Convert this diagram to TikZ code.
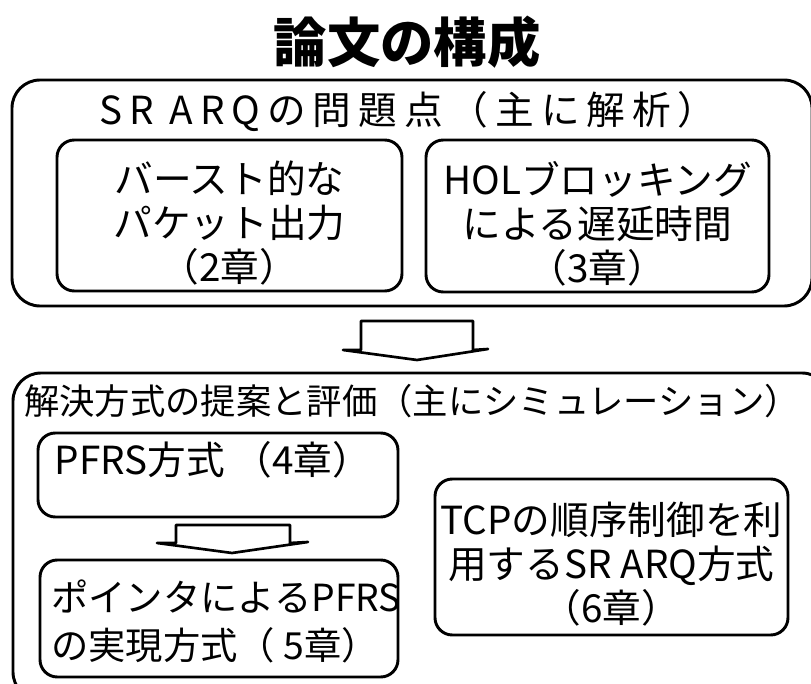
\documentclass[tikz,border=0pt]{standalone}
\usepackage{fontspec}
\newfontfamily\jp{Noto Sans CJK JP}
\newfontfamily\jpwide[LetterSpace=18]{Noto Sans CJK JP}
\usetikzlibrary{fit}
\begin{document}
\begin{tikzpicture}[x=0.75pt,y=-0.75pt,
  box/.style={draw, line width=2.2pt, rounded corners=13pt, inner sep=0pt},
  outerbox/.style={box, rounded corners=21pt},
  txt/.style={font=\jp\fontsize{29}{33}\selectfont, inner sep=0pt, align=center},
  blockarrow/.style={draw, line width=2pt, fill=white, line join=round}]
\useasboundingbox (0,0) rectangle (811,684);
\clip (0,0) rectangle (811,684);
% title
\node[font=\jp\bfseries\fontsize{40}{46}\selectfont, inner sep=0pt] (title) at (407,42) {論文の構成};
% top group
\node[outerbox, fit={(12,80) (812,306)}] (topgrp) {};
\node[font=\jpwide\fontsize{29}{34}\selectfont, inner sep=0pt] (tophead) at (408,112) {SR ARQの問題点（主に解析）};
\node[box, fit={(57,140) (402,291)}] (b2) {};
\node[box, fit={(426,140) (769,292)}] (b3) {};
\node[txt] (b2t) at ([yshift=-6pt]b2.center) {バースト的な\\パケット出力\\（2章）};
\node[txt] (b3t) at ([yshift=-6pt]b3.center) {HOLブロッキング\\による遅延時間\\（3章）};
% big arrow
\draw[blockarrow] (361,350) -- (361,321) -- (473,321) -- (473,350) -- (488,349) -- (417,360) -- (343,350) -- cycle;
% bottom group
\node[outerbox, fit={(13,373) (830,700)}] (botgrp) {};
\node[font=\jp\fontsize{26.5}{32}\selectfont, inner sep=0pt] (bothead) at (412,401) {解決方式の提案と評価（主にシミュレーション）};
\node[box, fit={(38,433) (398,517)}] (b4) {};
\node[txt] (b4t) at (213,460) {PFRS方式 （4章）};
\draw[blockarrow] (176,543) -- (176,525) -- (290,525) -- (290,543) -- (308,542) -- (232,553) -- (157,543) -- cycle;
\node[box, fit={(40,560) (398,677)}] (b5) {};
\node[txt, font=\jp\fontsize{28}{36}\selectfont, align=left, anchor=west] (b5t) at (51,621) {ポインタによるPFRS\\の実現方式（ 5章）};
\node[box, fit={(435,479) (788,635)}] (b6) {};
\node[txt] (b6t) at ([yshift=-5pt]b6.center) {TCPの順序制御を利\\用するSR ARQ方式\\（6章）};
\end{tikzpicture}
\end{document}
